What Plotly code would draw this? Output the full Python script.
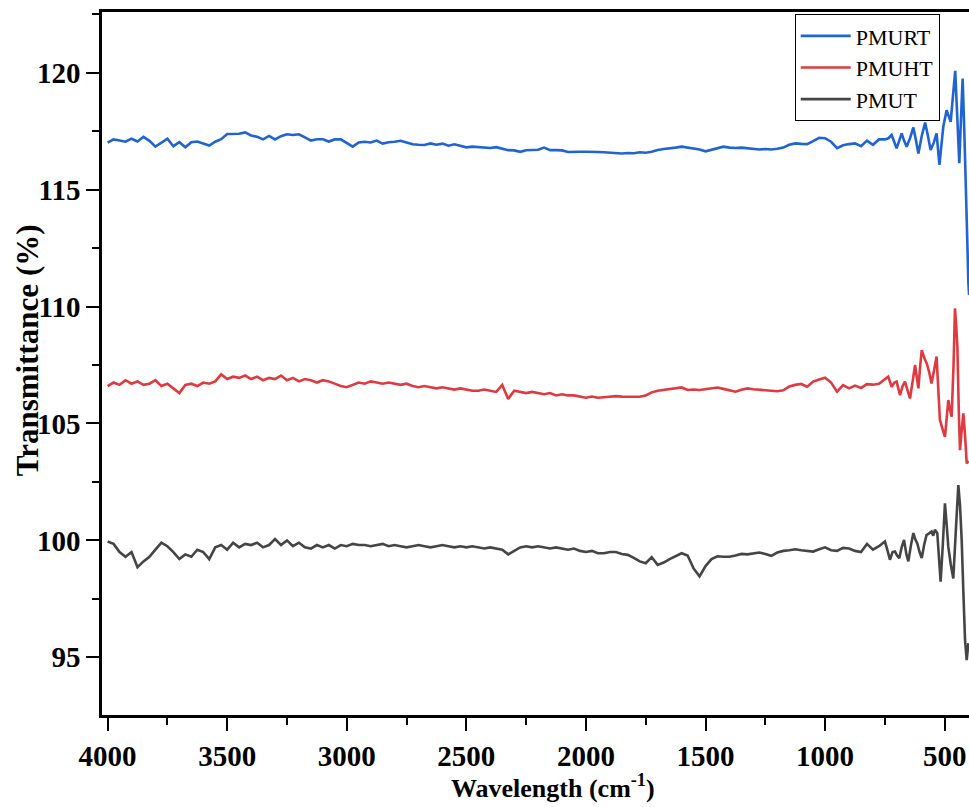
import plotly.graph_objects as go

# Shared sampling of the body of each spectrum (cm^-1), 4000 -> 750 in 25 steps
body_wn = list(range(4000, 749, -25))

pmurt_body = [
    117.01, 117.15, 117.10, 117.05, 117.18, 117.06, 117.26, 117.09, 116.84, 117.01,
    117.18, 116.86, 117.03, 116.81, 117.03, 117.06, 116.98, 116.89, 117.05, 117.16,
    117.38, 117.38, 117.39, 117.45, 117.32, 117.26, 117.15, 117.30, 117.15, 117.29,
    117.37, 117.34, 117.37, 117.24, 117.10, 117.16, 117.16, 117.06, 117.15, 117.15,
    116.98, 116.84, 117.02, 117.05, 117.02, 117.10, 116.97, 117.03, 117.05, 117.09,
    117.02, 116.94, 116.92, 116.91, 116.98, 116.92, 116.97, 116.88, 116.94, 116.89,
    116.81, 116.84, 116.82, 116.80, 116.78, 116.82, 116.77, 116.69, 116.68, 116.62,
    116.69, 116.69, 116.71, 116.80, 116.69, 116.69, 116.68, 116.61, 116.60, 116.62,
    116.62, 116.63, 116.61, 116.60, 116.58, 116.56, 116.55, 116.57, 116.56, 116.60,
    116.58, 116.62, 116.70, 116.74, 116.76, 116.80, 116.84, 116.80, 116.77, 116.72,
    116.64, 116.70, 116.78, 116.84, 116.80, 116.78, 116.80, 116.77, 116.75, 116.72,
    116.74, 116.72, 116.75, 116.80, 116.92, 116.98, 116.96, 116.95, 117.08, 117.22,
    117.20, 117.05, 116.78, 116.90, 116.95, 116.98, 116.86, 117.10, 116.92, 117.15,
    117.15,
]

pmuht_body = [
    106.60, 106.75, 106.65, 106.85, 106.70, 106.80, 106.65, 106.70, 106.85, 106.60,
    106.70, 106.50, 106.30, 106.65, 106.70, 106.60, 106.75, 106.70, 106.80, 107.10,
    106.90, 107.00, 106.95, 107.05, 106.90, 107.00, 106.85, 106.95, 106.90, 107.05,
    106.85, 106.95, 106.80, 106.90, 106.85, 106.75, 106.85, 106.80, 106.70, 106.60,
    106.55, 106.65, 106.75, 106.70, 106.80, 106.75, 106.70, 106.75, 106.70, 106.65,
    106.70, 106.60, 106.55, 106.60, 106.55, 106.50, 106.55, 106.50, 106.45, 106.50,
    106.45, 106.40, 106.40, 106.45, 106.40, 106.35, 106.65, 106.05, 106.40, 106.35,
    106.30, 106.35, 106.30, 106.25, 106.30, 106.20, 106.25, 106.20, 106.20, 106.15,
    106.10, 106.15, 106.10, 106.12, 106.15, 106.17, 106.15, 106.14, 106.15, 106.14,
    106.20, 106.33, 106.40, 106.44, 106.48, 106.50, 106.54, 106.43, 106.45, 106.43,
    106.46, 106.50, 106.54, 106.48, 106.42, 106.36, 106.44, 106.50, 106.46, 106.44,
    106.43, 106.42, 106.38, 106.42, 106.58, 106.65, 106.69, 106.57, 106.79, 106.88,
    106.96, 106.75, 106.36, 106.64, 106.50, 106.62, 106.52, 106.68, 106.66, 106.70,
    106.88,
]

pmut_body = [
    99.95, 99.85, 99.50, 99.30, 99.50, 98.85, 99.10, 99.30, 99.60, 99.90,
    99.75, 99.50, 99.20, 99.40, 99.30, 99.60, 99.50, 99.20, 99.70, 99.80,
    99.60, 99.90, 99.70, 99.85, 99.80, 99.90, 99.70, 99.80, 100.05, 99.80,
    100.00, 99.75, 99.90, 99.70, 99.65, 99.80, 99.70, 99.80, 99.65, 99.80,
    99.75, 99.85, 99.80, 99.80, 99.75, 99.80, 99.85, 99.75, 99.80, 99.75,
    99.70, 99.75, 99.80, 99.75, 99.70, 99.75, 99.80, 99.75, 99.70, 99.75,
    99.70, 99.75, 99.70, 99.65, 99.70, 99.65, 99.60, 99.40, 99.55, 99.70,
    99.75, 99.70, 99.75, 99.70, 99.65, 99.70, 99.65, 99.60, 99.65, 99.55,
    99.50, 99.55, 99.45, 99.45, 99.50, 99.50, 99.42, 99.38, 99.25, 99.10,
    99.02, 99.28, 98.95, 99.05, 99.20, 99.32, 99.45, 99.35, 98.80, 98.46,
    98.90, 99.20, 99.32, 99.30, 99.30, 99.35, 99.42, 99.40, 99.45, 99.48,
    99.42, 99.34, 99.48, 99.55, 99.58, 99.62, 99.58, 99.55, 99.52, 99.62,
    99.70, 99.58, 99.55, 99.68, 99.65, 99.55, 99.50, 99.85, 99.60, 99.75,
    99.95,
]

# Fingerprint region below 750 cm^-1, sampled where the bands turn
pmurt_tail_wn = [735, 722, 710, 701, 690, 680, 670, 659, 645, 631, 620, 610, 596,
                 582, 570, 559, 546, 534, 522, 506, 492, 482, 475, 467, 456, 447,
                 439, 432, 425, 418, 412, 406, 401, 398]
pmurt_tail = [117.20, 117.34, 117.00, 116.77, 117.10, 117.41, 117.10, 116.84, 117.20,
              117.66, 117.10, 116.55, 117.30, 117.87, 117.30, 116.70, 117.00, 117.41,
              116.06, 117.69, 118.40, 118.10, 117.90, 118.83, 120.08, 118.00, 116.13,
              118.00, 119.75, 117.50, 115.56, 113.00, 111.00, 110.50]

pmuht_tail_wn = [736, 722, 710, 701, 687, 676, 666, 655, 645, 634, 624, 617, 610,
                 603, 596, 585, 575, 565, 555, 544, 534, 527, 520, 510, 499, 492,
                 485, 478, 471, 463, 457, 452, 447, 441, 436, 429, 422, 415, 408, 400]
pmuht_tail = [107.00, 106.57, 106.75, 106.79, 106.21, 106.60, 106.79, 106.40, 106.07,
              106.80, 107.50, 107.00, 106.50, 107.40, 108.14, 107.80, 107.57, 107.20,
              106.71, 107.30, 107.86, 106.50, 105.15, 104.80, 104.43, 105.20, 106.00,
              105.60, 105.29, 107.50, 109.92, 109.20, 108.28, 105.50, 103.86, 104.70,
              105.43, 104.50, 103.29, 103.40]

pmut_tail_wn = [740, 729, 718, 708, 699, 690, 680, 670, 660, 652, 641, 631, 623,
                615, 605, 596, 586, 576, 565, 555, 548, 541, 531, 524, 517, 508,
                499, 492, 485, 475, 464, 453, 443, 436, 429, 422, 415, 408, 401]
pmut_tail = [99.60, 99.17, 99.50, 99.52, 99.35, 99.24, 99.70, 100.02, 99.40, 99.10,
             99.80, 100.31, 100.05, 99.88, 99.50, 99.24, 99.80, 100.23, 100.30, 100.38,
             100.20, 100.45, 100.31, 99.20, 98.23, 99.80, 101.58, 100.70, 99.73, 99.00,
             98.37, 100.50, 102.36, 101.50, 100.02, 97.80, 95.74, 94.88, 95.60]

series = [
    ("PMURT", pmurt_body, pmurt_tail_wn, pmurt_tail, "#1f64d2"),
    ("PMUHT", pmuht_body, pmuht_tail_wn, pmuht_tail, "#e03a40"),
    ("PMUT", pmut_body, pmut_tail_wn, pmut_tail, "#454545"),
]

x_title = "Wavelength (cm<sup>-1</sup>)"
y_title = "Transmittance (%)"

SERIF = "Liberation Serif"

fig = go.Figure()
for name, body, tail_wn, tail, color in series:
    assert len(body) == len(body_wn)
    fig.add_trace(go.Scatter(
        x=body_wn + tail_wn,
        y=body + tail,
        mode="lines",
        name=name,
        line=dict(color=color, width=2.6),
    ))

axis_common = dict(
    showline=True, linecolor="black", linewidth=2.5,
    ticks="outside", tickcolor="black", tickwidth=2, ticklen=13,
    showgrid=False, zeroline=False,
    tickfont=dict(family=SERIF, size=29, color="black", weight="bold"),
)

fig.update_xaxes(
    **axis_common,
    range=[4023.4, 398.4],
    tick0=0, dtick=500,
    mirror=True,
    minor=dict(dtick=250, ticklen=7, tickwidth=2, tickcolor="black", ticks="outside"),
)
fig.update_yaxes(
    **axis_common,
    range=[92.53, 122.6],
    tick0=95, dtick=5,
    minor=dict(dtick=2.5, tick0=95, ticklen=7, tickwidth=2, tickcolor="black", ticks="outside"),
)

# Axis titles placed as annotations so they can sit off the plot-area centre
fig.add_annotation(
    text=x_title, xref="paper", yref="paper", x=0.52, y=-0.1265,
    xanchor="center", yanchor="bottom", showarrow=False, borderpad=0,
    font=dict(family=SERIF, size=26, color="black", weight="bold"),
)
fig.add_annotation(
    text=y_title, xref="paper", yref="paper", x=-0.0865, y=0.519,
    xanchor="center", yanchor="middle", textangle=-90, showarrow=False,
    font=dict(family=SERIF, size=31, color="black", weight="bold"),
)

fig.update_layout(
    width=969, height=807,
    margin=dict(l=102, r=0, t=12, b=92),
    plot_bgcolor="white", paper_bgcolor="white",
    showlegend=True,
    legend=dict(
        x=0.799, y=0.997, xanchor="left", yanchor="top",
        bgcolor="white", bordercolor="black", borderwidth=1,
        font=dict(family=SERIF, size=22, color="black"),
        tracegroupgap=0, itemwidth=50,
    ),
)

fig.write_html("out.html")
